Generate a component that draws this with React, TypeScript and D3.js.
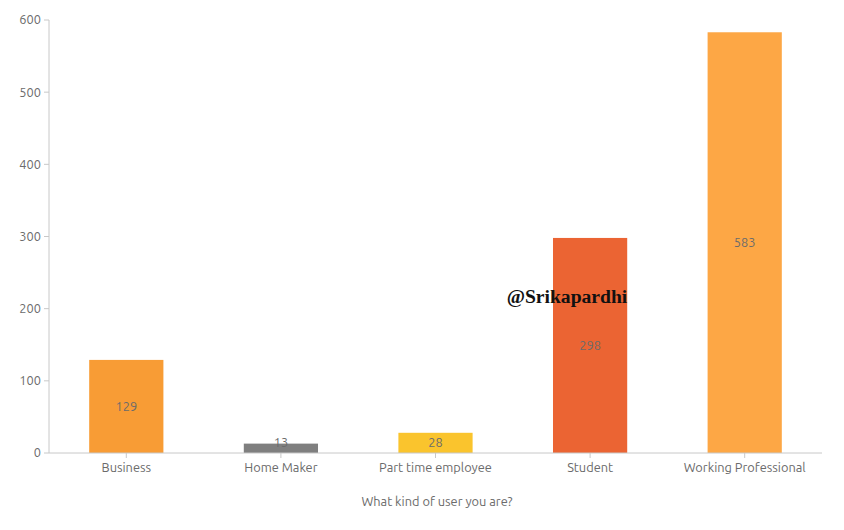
import React from "react";
import * as d3 from "d3";

const categories = ["Business", "Home Maker", "Part time employee", "Student", "Working Professional"];
const counts = [129, 13, 28, 298, 583];
const barColors = ["#f89c35", "#7f7f7f", "#fac42d", "#eb6433", "#fda745"];
const yTicks = [0, 100, 200, 300, 400, 500, 600];

const width = 844;
const height = 530;
const margin = { top: 20, right: 22, bottom: 77, left: 49 };

const App: React.FC = () => {
  const x = d3
    .scaleBand<string>()
    .domain(categories)
    .range([margin.left, width - margin.right])
    .paddingInner(0.52)
    .paddingOuter(0.26);
  const y = d3
    .scaleLinear()
    .domain([0, 600])
    .range([height - margin.bottom, margin.top]);

  const font = "Ubuntu, 'Open Sans', 'Noto Sans', sans-serif";
  const axisColor = "#c8c8c8";
  const textColor = "#6b6b6b";
  const baseY = y(0);

  return (
    <svg width={width} height={height} style={{ position: "absolute", left: 0, top: 0 }} fontFamily={font}>
      {/* y axis */}
      <line x1={margin.left} x2={margin.left} y1={margin.top} y2={baseY} stroke={axisColor} />
      {yTicks.map((t) => (
        <g key={t} transform={`translate(0,${y(t)})`}>
          <line x1={margin.left - 5} x2={margin.left} stroke={axisColor} />
          <text x={margin.left - 8} dy="0.35em" textAnchor="end" fontSize={12.8} fill={textColor}>
            {t}
          </text>
        </g>
      ))}
      {/* bars */}
      {categories.map((c, i) => (
        <rect
          key={c}
          x={x(c)}
          y={y(counts[i])}
          width={x.bandwidth()}
          height={baseY - y(counts[i])}
          fill={barColors[i]}
        />
      ))}
      {/* x axis */}
      <line x1={margin.left} x2={width - margin.right} y1={baseY} y2={baseY} stroke={axisColor} />
      {categories.map((c) => {
        const cx = (x(c) ?? 0) + x.bandwidth() / 2;
        return (
          <g key={c}>
            <line x1={cx} x2={cx} y1={baseY} y2={baseY + 5} stroke={axisColor} />
            <text x={cx} y={baseY + 19} textAnchor="middle" fontSize={12.8} fill={textColor}>
              {c}
            </text>
          </g>
        );
      })}
      {/* value labels */}
      {categories.map((c, i) => {
        const cx = (x(c) ?? 0) + x.bandwidth() / 2;
        const mid = Math.min((y(counts[i]) + baseY) / 2, baseY - 10);
        return (
          <text key={c} x={cx} y={mid} dy="0.35em" textAnchor="middle" fontSize={12.8} fill={textColor}>
            {counts[i]}
          </text>
        );
      })}
      <text x={437} y={506} textAnchor="middle" fontSize={12.8} fill={textColor}>
        What kind of user you are?
      </text>
      <text
        x={567}
        y={303}
        textAnchor="middle"
        fontSize={19.6}
        fontWeight="bold"
        fontFamily="'Liberation Serif', 'DejaVu Serif', serif"
        fill="#111"
      >
        @Srikapardhi
      </text>
    </svg>
  );
};

export default App;
